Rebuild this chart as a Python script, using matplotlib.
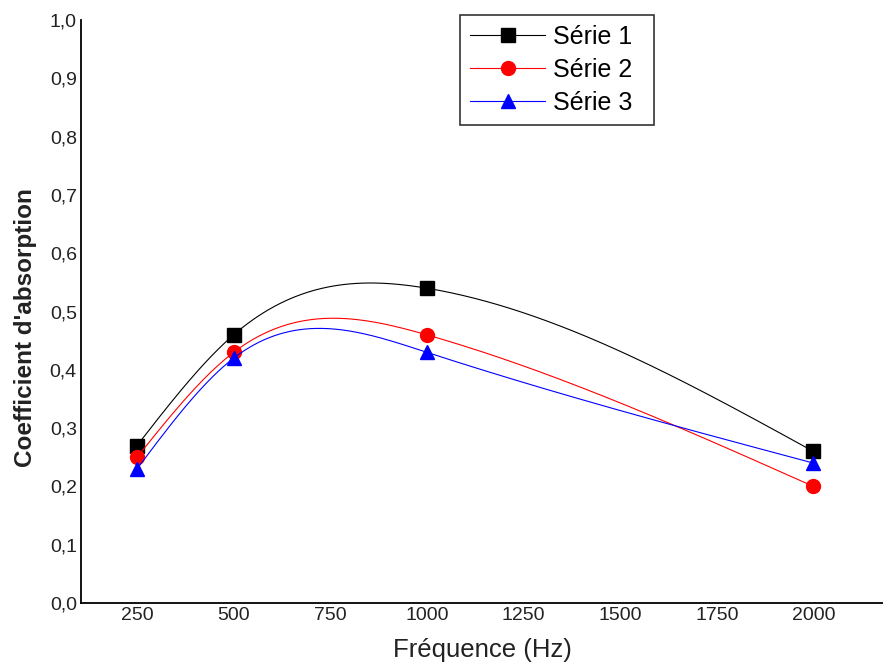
import numpy as np
import matplotlib
matplotlib.use("Agg")
import matplotlib.pyplot as plt
from matplotlib.lines import Line2D
from matplotlib.ticker import FuncFormatter

plt.rcParams["font.family"] = ["Liberation Sans", "DejaVu Sans"]

freq = [250, 500, 1000, 2000]
serie1 = [0.27, 0.46, 0.54, 0.26]
serie2 = [0.25, 0.43, 0.46, 0.20]
serie3 = [0.23, 0.42, 0.43, 0.24]
labels = ["Série 1", "Série 2", "Série 3"]
xticks = [250, 500, 750, 1000, 1250, 1500, 1750, 2000]
yticks = [0.0, 0.1, 0.2, 0.3, 0.4, 0.5, 0.6, 0.7, 0.8, 0.9, 1.0]


def natural_spline(x, y, xs):
    # plain natural cubic spline, only used to draw the smoothed line
    x = np.asarray(x, float)
    y = np.asarray(y, float)
    n = len(x)
    h = np.diff(x)
    A = np.zeros((n, n))
    b = np.zeros(n)
    A[0, 0] = 1
    A[-1, -1] = 1
    for i in range(1, n - 1):
        A[i, i - 1] = h[i - 1]
        A[i, i] = 2 * (h[i - 1] + h[i])
        A[i, i + 1] = h[i]
        b[i] = 3 * ((y[i + 1] - y[i]) / h[i] - (y[i] - y[i - 1]) / h[i - 1])
    c = np.linalg.solve(A, b)
    out = np.empty_like(xs)
    for k, xv in enumerate(xs):
        i = min(max(np.searchsorted(x, xv) - 1, 0), n - 2)
        dx = xv - x[i]
        bb = (y[i + 1] - y[i]) / h[i] - h[i] * (2 * c[i] + c[i + 1]) / 3
        d = (c[i + 1] - c[i]) / (3 * h[i])
        out[k] = y[i] + bb * dx + c[i] * dx ** 2 + d * dx ** 3
    return out


fig = plt.figure(figsize=(8.83, 6.68), dpi=100)
ax = fig.add_axes([0.0917, 0.0973, 0.9083, 0.8727])

styles = [("black", "s", 10), ("red", "o", 10), ("blue", "^", 10.5)]
xs = np.linspace(freq[0], freq[-1], 400)
handles = []
for ys, (col, mk, ms), lab in zip([serie1, serie2, serie3], styles, labels):
    ax.plot(xs, natural_spline(freq, ys, xs), color=col, lw=0.8)
    ax.plot(freq, ys, ls="none", marker=mk, ms=ms, color=col)
    handles.append(Line2D([], [], color=col, lw=0.8, marker=mk, ms=ms, label=lab))

ax.set_xlim(105, 2180)
ax.set_ylim(0, 1.0)
ax.set_xticks(xticks)
ax.set_yticks(yticks)
ax.yaxis.set_major_formatter(FuncFormatter(lambda v, p: f"{v:.1f}".replace(".", ",")))
ax.tick_params(length=0, labelsize=14, colors="#222222")
ax.tick_params(axis="x", pad=3)
ax.tick_params(axis="y", pad=3)
for s in ["top", "right"]:
    ax.spines[s].set_visible(False)
for s in ["left", "bottom"]:
    ax.spines[s].set_linewidth(1.3)

ax.set_xlabel("Fréquence (Hz)", fontsize=18.5, color="#222222", labelpad=10)
ax.set_ylabel("Coefficient d'absorption", fontsize=17.5, fontweight="bold",
              color="#222222")
ax.yaxis.set_label_coords(-0.055, 0.473)

leg_h = 107 / 668
leg = fig.legend(handles=handles, loc="upper left",
                 bbox_to_anchor=(0.521, 0.9775 - leg_h, 194 / 883, leg_h),
                 mode="expand", borderaxespad=0, fontsize=18, frameon=True,
                 fancybox=False, edgecolor="black", handlelength=3.0,
                 borderpad=0.4, labelspacing=0.35, handletextpad=0.3)
leg.get_frame().set_linewidth(1.2)

fig.savefig("out.png", dpi=100)
